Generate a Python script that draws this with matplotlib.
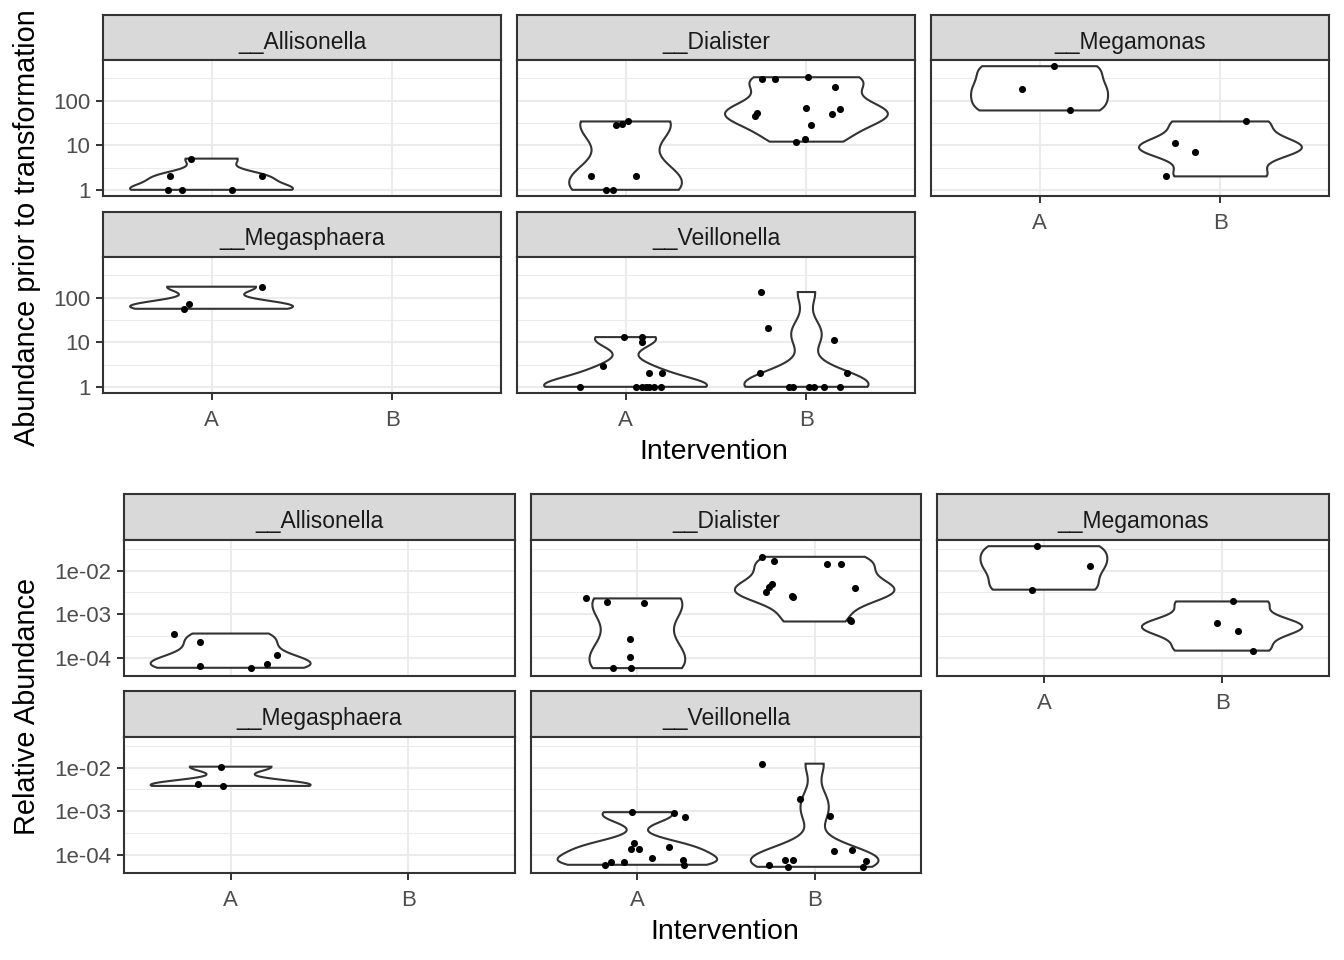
import numpy as np
import matplotlib
matplotlib.use("Agg")
import matplotlib.pyplot as plt
from matplotlib.ticker import FixedLocator, NullFormatter

plt.rcParams['font.family'] = ['Liberation Sans', 'DejaVu Sans']

taxa = ['__Allisonella', '__Dialister', '__Megamonas', '__Megasphaera', '__Veillonella']
groups = ['A', 'B']

# abundance prior to transformation (counts)
cnt_allisonella_A = [2, 1, 1, 5, 1, 2]
cnt_dialister_A = [2, 2, 1, 1, 28, 30, 34]
cnt_dialister_B = [297, 297, 333, 199, 67, 64, 49, 53, 46, 29, 14, 12]
cnt_megamonas_A = [589, 179, 60]
cnt_megamonas_B = [34, 11, 7, 2]
cnt_megasphaera_A = [175, 71, 56]
cnt_veillonella_A = [1, 13, 13, 10, 3, 2, 2, 1, 1, 1, 1, 1, 1]
cnt_veillonella_B = [133, 21, 11, 2, 2, 1, 1, 1, 1, 1, 1]

# relative abundance
rel_allisonella_A = [3.6e-4, 2.3e-4, 6.6e-5, 5.9e-5, 7.2e-5, 1.16e-4]
rel_dialister_A = [2.3e-3, 1.86e-3, 1.77e-3, 2.76e-4, 1.05e-4, 5.8e-5, 5.8e-5]
rel_dialister_B = [0.0207, 0.017, 0.0138, 0.0138, 4.8e-3, 4.1e-3, 3.3e-3,
                   2.6e-3, 2.5e-3, 3.9e-3, 7.4e-4, 6.8e-4]
rel_megamonas_A = [0.0363, 0.0126, 3.65e-3]
rel_megamonas_B = [1.96e-3, 6.4e-4, 4.2e-4, 1.46e-4]
rel_megasphaera_A = [0.0105, 4.2e-3, 3.8e-3]
rel_veillonella_A = [9.5e-4, 8.9e-4, 7.2e-4, 1.86e-4, 1.38e-4, 1.38e-4, 1.48e-4,
                     8.3e-5, 7.7e-5, 5.9e-5, 5.9e-5, 6.7e-5, 6.7e-5]
rel_veillonella_B = [0.0123, 1.95e-3, 7.9e-4, 1.2e-4, 1.26e-4, 7.8e-5, 7.8e-5,
                     5.9e-5, 5.3e-5, 7.1e-5, 5.3e-5]

# horizontal jitter of the points (category units), as seen in the picture
jit_cnt_allisonella_A = [-0.23, -0.24, -0.165, -0.115, 0.114, 0.278]
jit_cnt_dialister_A = [-0.193, 0.056, -0.108, -0.071, -0.053, -0.018, 0.012]
jit_cnt_dialister_B = [-0.245, -0.175, 0.009, 0.157, -0.005, 0.185, 0.139,
                       -0.272, -0.285, 0.024, -0.009, -0.060]
jit_cnt_megamonas_A = [0.078, -0.096, 0.168]
jit_cnt_megamonas_B = [0.140, -0.254, -0.138, -0.303]
jit_cnt_megasphaera_A = [0.28, -0.123, -0.152]
jit_cnt_veillonella_A = [-0.252, -0.009, 0.091, 0.091, -0.123, 0.131, 0.203,
                         0.056, 0.091, 0.131, 0.159, 0.194, 0.112]
jit_cnt_veillonella_B = [-0.252, -0.215, 0.150, -0.257, 0.223, -0.096, -0.073,
                         0.015, 0.041, 0.098, 0.185]

jit_rel_allisonella_A = [-0.317, -0.172, -0.172, 0.113, 0.205, 0.261]
jit_rel_dialister_A = [-0.290, -0.174, 0.040, -0.043, -0.043, -0.140, -0.037]
jit_rel_dialister_B = [-0.295, -0.227, 0.071, 0.148, -0.243, -0.255, -0.274,
                       -0.128, -0.120, 0.228, 0.200, 0.204]
jit_rel_megamonas_A = [-0.039, 0.258, -0.069]
jit_rel_megamonas_B = [0.062, -0.028, 0.088, 0.171]
jit_rel_megasphaera_A = [-0.056, -0.182, -0.044]
jit_rel_veillonella_A = [-0.032, 0.206, 0.271, -0.020, -0.037, 0.010, 0.181,
                         0.085, 0.257, 0.263, -0.183, -0.151, -0.073]
jit_rel_veillonella_B = [-0.295, -0.081, 0.086, 0.110, 0.210, -0.167, -0.120,
                         -0.259, -0.150, 0.289, 0.273]

top_vals = {
    '__Allisonella': {'A': cnt_allisonella_A},
    '__Dialister': {'A': cnt_dialister_A, 'B': cnt_dialister_B},
    '__Megamonas': {'A': cnt_megamonas_A, 'B': cnt_megamonas_B},
    '__Megasphaera': {'A': cnt_megasphaera_A},
    '__Veillonella': {'A': cnt_veillonella_A, 'B': cnt_veillonella_B},
}
top_jit = {
    '__Allisonella': {'A': jit_cnt_allisonella_A},
    '__Dialister': {'A': jit_cnt_dialister_A, 'B': jit_cnt_dialister_B},
    '__Megamonas': {'A': jit_cnt_megamonas_A, 'B': jit_cnt_megamonas_B},
    '__Megasphaera': {'A': jit_cnt_megasphaera_A},
    '__Veillonella': {'A': jit_cnt_veillonella_A, 'B': jit_cnt_veillonella_B},
}
bot_vals = {
    '__Allisonella': {'A': rel_allisonella_A},
    '__Dialister': {'A': rel_dialister_A, 'B': rel_dialister_B},
    '__Megamonas': {'A': rel_megamonas_A, 'B': rel_megamonas_B},
    '__Megasphaera': {'A': rel_megasphaera_A},
    '__Veillonella': {'A': rel_veillonella_A, 'B': rel_veillonella_B},
}
bot_jit = {
    '__Allisonella': {'A': jit_rel_allisonella_A},
    '__Dialister': {'A': jit_rel_dialister_A, 'B': jit_rel_dialister_B},
    '__Megamonas': {'A': jit_rel_megamonas_A, 'B': jit_rel_megamonas_B},
    '__Megasphaera': {'A': jit_rel_megasphaera_A},
    '__Veillonella': {'A': jit_rel_veillonella_A, 'B': jit_rel_veillonella_B},
}

W, H = 1344, 960
fig = plt.figure(figsize=(W / 100, H / 100), dpi=100)
fig.patch.set_facecolor('white')

DARK = '#333333'


def rect(x0, y0, x1, y1):
    return [x0 / W, 1 - y1 / H, (x1 - x0) / W, (y1 - y0) / H]


def nrd0(x):
    hi = np.std(x, ddof=1)
    q75, q25 = np.percentile(x, [75, 25])
    lo = min(hi, (q75 - q25) / 1.34)
    if lo == 0:
        lo = hi if hi > 0 else (abs(x[0]) if x[0] != 0 else 1)
    return 0.9 * lo * len(x) ** -0.2


def draw_panel(ax, vals, jits, ylim, majors, labels, minors, show_x, show_y):
    curves = []
    for gi, g in enumerate(groups):
        if g not in vals:
            continue
        lv = np.log10(np.array(vals[g], dtype=float))
        bw = nrd0(lv)
        grid = np.linspace(lv.min(), lv.max(), 512)
        dens = np.exp(-0.5 * ((grid[:, None] - lv[None, :]) / bw) ** 2).sum(1)
        dens = dens / (len(lv) * bw * np.sqrt(2 * np.pi))
        curves.append((gi + 1, g, grid, dens))
    mx = max(c[3].max() for c in curves)
    for pos, g, grid, dens in curves:
        hw = 0.45 * dens / mx
        xs = np.concatenate([pos - hw, (pos + hw)[::-1], [pos - hw[0]]])
        ys = np.concatenate([grid, grid[::-1], [grid[0]]])
        ax.fill(xs, 10 ** ys, facecolor='white', edgecolor=DARK, lw=1.5, zorder=2)
        ax.scatter(pos + np.array(jits[g]), vals[g], s=26, color='black',
                   lw=0, zorder=3)

    ax.set_yscale('log')
    ax.set_ylim(*ylim)
    ax.set_xlim(0.4, 2.6)
    ax.yaxis.set_major_locator(FixedLocator(majors))
    ax.yaxis.set_minor_locator(FixedLocator(minors))
    ax.yaxis.set_minor_formatter(NullFormatter())
    ax.set_xticks([1, 2])
    ax.grid(which='major', color='#EBEBEB', lw=1.5)
    ax.grid(which='minor', axis='y', color='#EBEBEB', lw=0.75)
    ax.set_axisbelow(True)
    ax.tick_params(which='minor', length=0)
    ax.tick_params(which='major', length=5, width=1.4, color=DARK,
                   labelcolor='#4D4D4D', labelsize=16, pad=4)
    ax.tick_params(axis='x', which='major', pad=7.5)
    if show_y:
        ax.set_yticklabels(labels)
    else:
        ax.tick_params(axis='y', which='major', length=0, labelleft=False)
    if show_x:
        ax.set_xticklabels(groups)
    else:
        ax.tick_params(axis='x', which='major', length=0, labelbottom=False)
    for sp in ax.spines.values():
        sp.set_color(DARK)
        sp.set_linewidth(1.5)


def draw_strip(x0, y0, x1, y1, name):
    sax = fig.add_axes(rect(x0, y0, x1, y1))
    sax.set_facecolor('#D9D9D9')
    sax.set_xticks([])
    sax.set_yticks([])
    for sp in sax.spines.values():
        sp.set_color(DARK)
        sp.set_linewidth(1.5)
    sax.text(0.5, 0.40, name, ha='center', va='center', fontsize=16.5,
             color='#1A1A1A', transform=sax.transAxes)


def draw_block(vals, jits, cols, rows, majors, labels):
    allv = np.log10(np.concatenate([np.array(v, float) for d in vals.values()
                                    for v in d.values()]))
    lo, hi = allv.min(), allv.max()
    pad = 0.05 * (hi - lo)
    ylim = (10 ** (lo - pad), 10 ** (hi + pad))
    k0, k1 = int(np.floor(lo - pad)), int(np.ceil(hi + pad))
    minors = [10 ** (k + 0.5) for k in range(k0 - 1, k1 + 1)]
    # facet_wrap layout: 3 columns
    for i, name in enumerate(taxa):
        r, c = divmod(i, 3)
        x0, x1 = cols[c]
        s0, p0, p1 = rows[r]
        draw_strip(x0, s0, x1, p0, name)
        ax = fig.add_axes(rect(x0, p0, x1, p1))
        show_x = (r == 1) or (c == 2)
        show_y = (c == 0)
        draw_panel(ax, vals[name], jits[name], ylim, majors, labels, minors,
                   show_x, show_y)


draw_block(top_vals, top_jit,
           cols=[(103, 501), (517, 915), (931, 1329)],
           rows=[(15, 60, 196), (212, 257, 393)],
           majors=[1, 10, 100], labels=['1', '10', '100'])
draw_block(bot_vals, bot_jit,
           cols=[(124, 515), (531, 921), (937, 1329)],
           rows=[(494, 540, 676), (691, 737, 873)],
           majors=[1e-4, 1e-3, 1e-2], labels=['1e-04', '1e-03', '1e-02'])

fig.text(714 / W, 1 - 452 / H, 'Intervention', ha='center', va='center',
         fontsize=20.5, color='black')
fig.text(725 / W, 1 - 932 / H, 'Intervention', ha='center', va='center',
         fontsize=20.5, color='black')
fig.text(27 / W, 1 - 228 / H, 'Abundance prior to transformation', rotation=90,
         ha='center', va='center', fontsize=20.8, color='black')
fig.text(27 / W, 1 - 706 / H, 'Relative Abundance', rotation=90,
         ha='center', va='center', fontsize=20.8, color='black')

fig.savefig('out.png', dpi=100, facecolor='white')
